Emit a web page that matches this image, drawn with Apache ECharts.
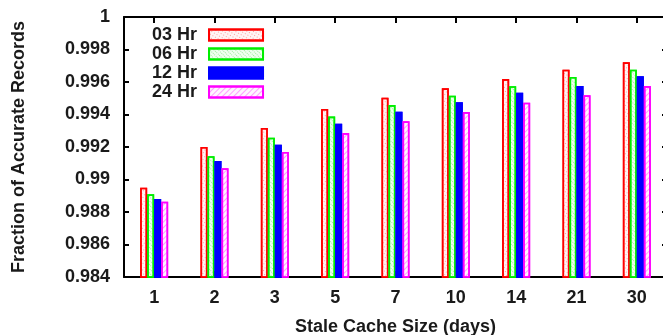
<!DOCTYPE html>
<html><head><meta charset="utf-8">
<script src="https://cdn.jsdelivr.net/npm/echarts@6/dist/echarts.min.js"></script>
<style>html,body{margin:0;padding:0;background:#fff}#c{width:663px;height:335px}</style>
</head><body><div id="c"></div>
<script>
var categories = ['1','2','3','5','7','10','14','21','30'];
var seriesNames = ['03 Hr','06 Hr','12 Hr','24 Hr'];
var hr03 = [0.9895, 0.9920, 0.99317, 0.99434, 0.99503, 0.99561, 0.99618, 0.99676, 0.99721];
var hr06 = [0.98909, 0.99143, 0.99257, 0.99387, 0.99458, 0.99516, 0.99574, 0.99631, 0.99676];
var hr12 = [0.9888, 0.99114, 0.99214, 0.99343, 0.99417, 0.99475, 0.99534, 0.99575, 0.99635];
var hr24 = [0.98863, 0.99069, 0.9917, 0.99286, 0.99358, 0.99415, 0.99473, 0.99518, 0.99575];
var yMin = 0.984, yMax = 1, yStep = 0.002;

var FONT = 'Liberation Sans';
var TXT = {fontFamily:FONT, fontSize:18, fontWeight:'bold', color:'#1a1a1a'};
function txt(extra){ var o = {}; for (var k in TXT) o[k]=TXT[k]; for (var k2 in extra) o[k2]=extra[k2]; return o; }
var styles = [
  {border:'#ff0000', fill:'#fff4f4', decal:{symbol:'rect', symbolSize:1, dashArrayX:[1,2], dashArrayY:[1,2], color:'rgba(255,0,0,0.35)'}},
  {border:'#00ee00', fill:'#f0fff0', decal:{symbol:'rect', symbolSize:1, dashArrayX:[1,1], dashArrayY:[1,2], color:'rgba(0,200,0,0.35)', rotation:0.785}},
  {border:'#0000ff', fill:'#0000ff', decal:{symbol:'rect', symbolSize:1, dashArrayX:[1,0], dashArrayY:[1,0], color:'#0000ff'}},
  {border:'#ff00ff', fill:'#fff4ff', decal:{symbol:'rect', symbolSize:1, dashArrayX:[1,0], dashArrayY:[1,3], color:'rgba(255,0,255,0.35)', rotation:-0.785}}
];
var data = [hr03, hr06, hr12, hr24];
var series = data.map(function(d, i){
  return {
    name: seriesNames[i], type:'bar', data:d, barWidth:7, barGap:'0%',
    itemStyle:{color:styles[i].fill, borderColor:styles[i].border, borderWidth:1.6, decal:styles[i].decal}
  };
});
var chart = echarts.init(document.getElementById('c'));
var axisLine = {show:true, lineStyle:{color:'#000', width:2}};
chart.setOption({
  animation:false,
  aria:{enabled:true, decal:{show:true}},
  grid:{left:124, top:17, width:543, height:260, containLabel:false, outerBoundsMode:'none'},
  legend:{
    orient:'vertical', left:147, top:21, align:'right', icon:'rect',
    itemWidth:54, itemHeight:11, itemGap:1,
    textStyle:txt({padding:[0,7,0,0]}),
    data:seriesNames
  },
  xAxis:[{
    type:'category', data:categories, position:'bottom',
    axisLine:axisLine, axisTick:{show:true, inside:true, alignWithLabel:true, length:6, lineStyle:{color:'#000', width:2}},
    axisLabel:txt({margin:12}),
    name:'Stale Cache Size (days)', nameLocation:'middle', nameGap:41,
    nameTextStyle:txt({})
  },{
    type:'category', data:categories, position:'top',
    axisLine:axisLine, axisTick:{show:true, inside:true, alignWithLabel:true, length:6, lineStyle:{color:'#000', width:2}},
    axisLabel:{show:false}
  }],
  yAxis:[{
    type:'value', min:yMin, max:yMax, interval:yStep, position:'left',
    axisLine:axisLine, axisTick:{show:true, inside:true, length:5, lineStyle:{color:'#000', width:2}},
    splitLine:{show:false},
    axisLabel:txt({margin:14, formatter:function(v){ return String(parseFloat(v.toFixed(3))); }}),
    name:'Fraction of Accurate Records', nameLocation:'middle', nameGap:96,
    nameTextStyle:txt({})
  },{
    type:'value', min:yMin, max:yMax, interval:yStep, position:'right',
    axisLine:axisLine, axisTick:{show:true, inside:true, length:5, lineStyle:{color:'#000', width:2}},
    splitLine:{show:false}, axisLabel:{show:false}
  }],
  series:series
});
</script></body></html>
